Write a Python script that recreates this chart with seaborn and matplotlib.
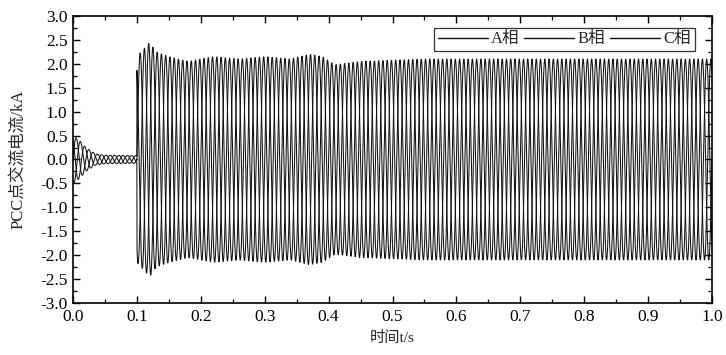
import numpy as np
import pandas as pd
import matplotlib
matplotlib.use("Agg")
import matplotlib.pyplot as plt
import seaborn as sns
from matplotlib.ticker import MultipleLocator

# envelope of the phase currents (kA)
t_env = [0.0, 0.01, 0.02, 0.035, 0.05, 0.0999, 0.1, 0.11, 0.12, 0.13, 0.15, 0.18, 0.22,
         0.26, 0.30, 0.34, 0.37, 0.39, 0.41, 0.45, 0.55, 0.7, 0.85, 1.0]
amp_env = [0.5, 0.4, 0.25, 0.12, 0.09, 0.08, 2.15, 2.3, 2.45, 2.25, 2.15, 2.05, 2.15,
           2.1, 2.15, 2.1, 2.2, 2.15, 1.98, 2.05, 2.1, 2.1, 2.1, 2.1]
freq = 50.0
phases = ["A相", "B相", "C相"]
phase_shift = [0.0, -120.0, 120.0]
y_ticks = [-3.0, -2.5, -2.0, -1.5, -1.0, -0.5, 0.0, 0.5, 1.0, 1.5, 2.0, 2.5, 3.0]
x_ticks = [0.0, 0.1, 0.2, 0.3, 0.4, 0.5, 0.6, 0.7, 0.8, 0.9, 1.0]

t = np.linspace(0, 1.0, 20001)
env = np.interp(t, t_env, amp_env)
frames = []
for name, sh in zip(phases, phase_shift):
    i = env * np.sin(2 * np.pi * freq * t + np.deg2rad(sh))
    frames.append(pd.DataFrame({"t": t, "i": i, "相": name}))
df = pd.concat(frames, ignore_index=True)

sns.set_style("ticks")
plt.rcParams["font.family"] = ["Liberation Serif", "Noto Sans CJK SC"]
plt.rcParams["axes.unicode_minus"] = False

fig = plt.figure(figsize=(7.26, 3.55), dpi=100)
ax = fig.add_axes([0.1006, 0.1465, 0.8801, 0.8085])
sns.lineplot(data=df, x="t", y="i", hue="相", palette=["#111111"] * 3,
             estimator=None, sort=False, linewidth=0.75, ax=ax)

ax.set_xlim(0, 1.0)
ax.set_ylim(-3.0, 3.0)
ax.set_xticks(x_ticks)
ax.set_yticks(y_ticks)
ax.set_xticklabels([f"{v:.1f}" for v in x_ticks])
ax.set_yticklabels([f"{v:.1f}" for v in y_ticks])
ax.xaxis.set_minor_locator(MultipleLocator(0.05))
ax.yaxis.set_minor_locator(MultipleLocator(0.25))
ax.tick_params(which="both", direction="in", top=True, right=True, labelsize=12.5, colors="black")
ax.tick_params(which="major", length=5, width=1.0, pad=4)
ax.tick_params(which="minor", length=3, width=0.9)
for s in ax.spines.values():
    s.set_linewidth(1.2)
    s.set_color("black")

ax.set_xlabel("时间t/s", fontsize=11, labelpad=5)
ax.set_ylabel("PCC点交流电流/kA", fontsize=12, labelpad=10)

leg = ax.legend(loc="upper right", bbox_to_anchor=(0.973, 0.958), ncol=3, frameon=True,
                fancybox=False, edgecolor="black", fontsize=12, handlelength=3.0,
                handletextpad=0.2, columnspacing=0.3, borderpad=0.2, borderaxespad=0)
leg.get_frame().set_linewidth(0.9)
for line in leg.get_lines():
    line.set_linewidth(1.0)

fig.savefig("out.png", dpi=100)
